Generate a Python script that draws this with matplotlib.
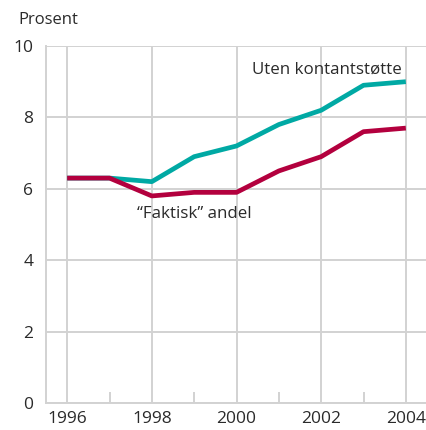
import numpy as np
import matplotlib.pyplot as plt

plt.rcParams['font.family'] = ['Open Sans', 'DejaVu Sans']

# data
years = [1996, 1997, 1998, 1999, 2000, 2001, 2002, 2003, 2004]
uten = [6.3, 6.3, 6.2, 6.9, 7.2, 7.8, 8.2, 8.9, 9.0]
faktisk = [6.3, 6.3, 5.8, 5.9, 5.9, 6.5, 6.9, 7.6, 7.7]
xticks = [1996, 1998, 2000, 2002, 2004]
yticks = [0, 2, 4, 6, 8, 10]

grid_col = '#d2d2d2'
teal = '#00a9a4'
red = '#b3003e'
txt = '#2a2a2a'

fig = plt.figure(figsize=(4.27, 4.30), dpi=100)
ax = fig.add_axes([46/427, 27/430, 381/427, 357/430])

ax.plot(years, faktisk, color=red, lw=3.4, solid_capstyle='butt', zorder=3)
ax.plot(years, uten, color=teal, lw=3.4, solid_capstyle='butt', zorder=2)

ax.set_xlim(1995.5, 2004.5)
ax.set_ylim(0, 10)
ax.set_xticks(xticks)
ax.set_yticks(yticks)
ax.set_xticks([1997, 1999, 2001, 2003], minor=True)

ax.grid(True, color=grid_col, lw=1.4, which='major')
ax.set_axisbelow(True)
for s in ['top', 'right']:
    ax.spines[s].set_visible(False)
for s in ['left', 'bottom']:
    ax.spines[s].set_color(grid_col)
    ax.spines[s].set_linewidth(1.4)

ax.tick_params(axis='both', which='major', length=0, labelsize=12.5, colors=txt)
ax.tick_params(axis='x', which='major', pad=6)
ax.tick_params(axis='y', which='major', pad=9)
ax.tick_params(axis='x', which='minor', direction='in', length=8, width=1.4, color=grid_col)

fig.text(18/427, 1 - 20/430, 'Prosent', fontsize=12, va='center', ha='left', color=txt)
ax.text(2003.9, 9.35, 'Uten kontantstøtte', fontsize=12.2, ha='right', va='center', color=txt)
ax.text(1997.65, 5.3, '\u201cFaktisk\u201d andel', fontsize=12.2, ha='left', va='center', color=txt)

fig.savefig('out.png', dpi=100)
